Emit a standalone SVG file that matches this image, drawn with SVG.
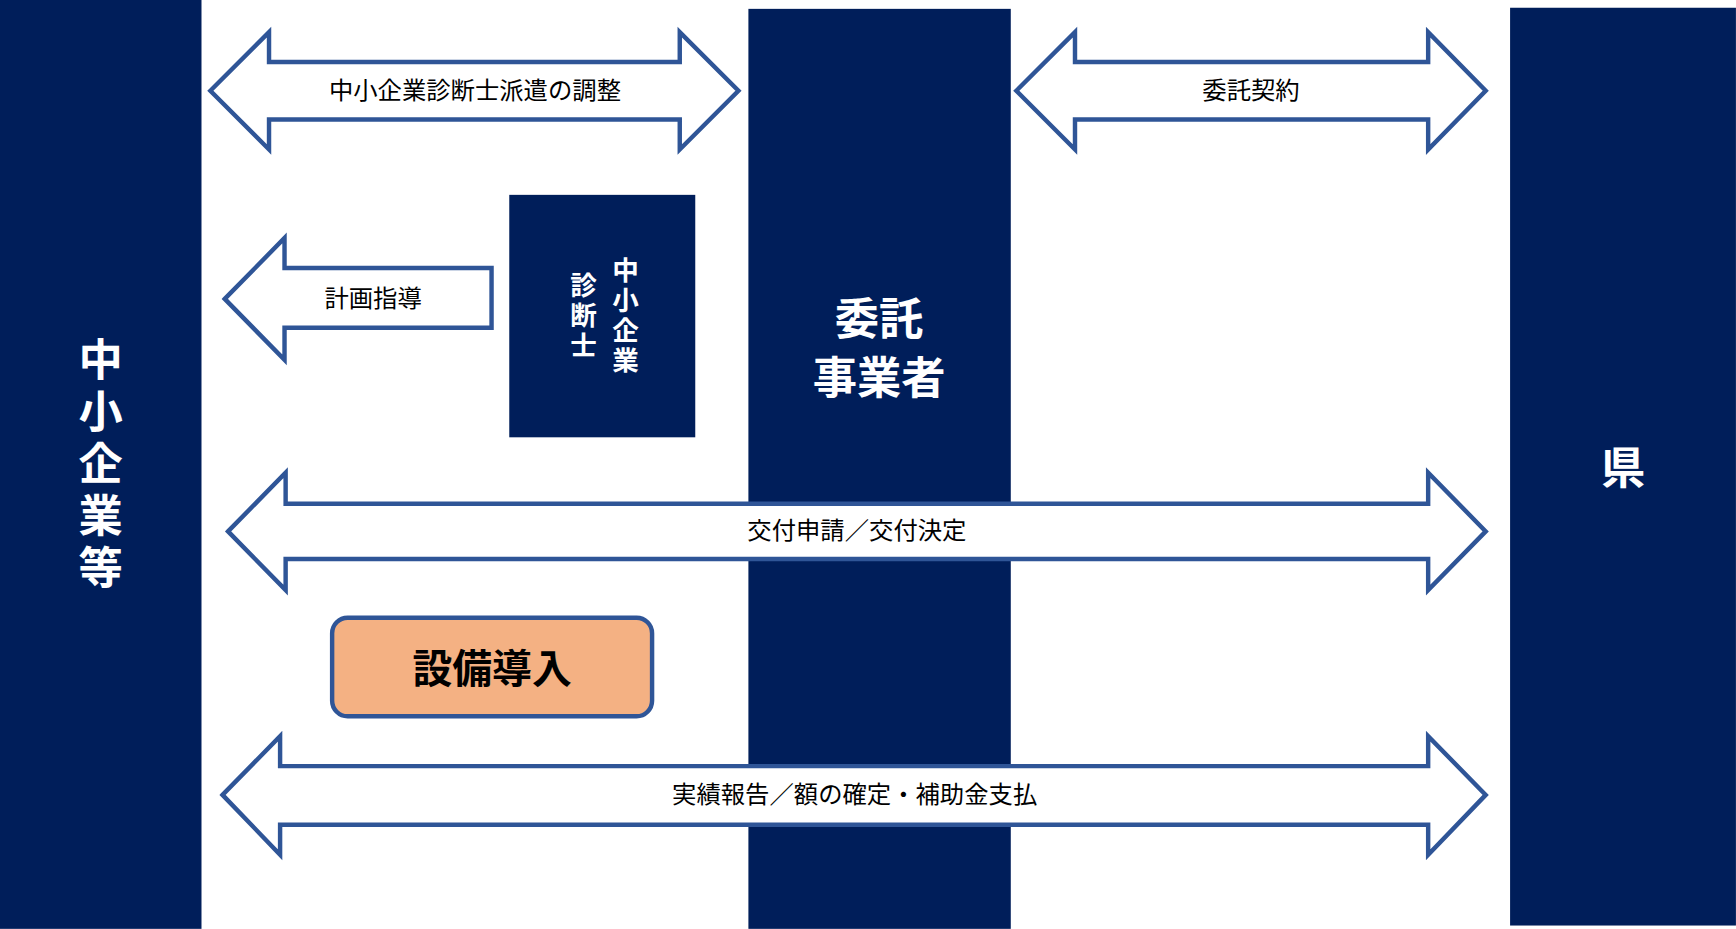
<svg xmlns="http://www.w3.org/2000/svg" width="1736" height="929" viewBox="0 0 1736 929">
<style>
.bar{fill:#001E5A}
.arr{fill:#fff;stroke:#2F5597;stroke-width:4;stroke-linejoin:miter}
.lbl{font-family:"Noto Sans CJK JP",sans-serif;font-size:22px;fill:#000;text-anchor:middle}
.big{font-family:"Noto Sans CJK JP",sans-serif;font-weight:bold;fill:#fff;text-anchor:middle}
.vt{writing-mode:vertical-rl;text-orientation:upright}
</style>
<rect width="1736" height="929" fill="#fff"/>
<g transform="scale(1.1071)">
<g id="sme"><rect class="bar" x="0" y="0" width="182" height="839"/>
<text class="big vt" font-size="40" x="91" y="422" letter-spacing="7">中小企業等</text></g>
<g id="contractor"><rect class="bar" x="676" y="8" width="237" height="831"/>
<text class="big" font-size="40" x="794" y="303">委託</text><text class="big" font-size="40" x="794" y="356">事業者</text></g>
<g id="pref"><rect class="bar" x="1364" y="7" width="204" height="829"/>
<text class="big" font-size="40" x="1466" y="437">県</text></g>
<g id="consultant"><rect class="bar" x="460" y="176" width="168" height="219"/>
<text class="big vt" font-size="24" x="565" y="286" letter-spacing="3">中小企業</text>
<text class="big vt" font-size="24" x="527" y="286" letter-spacing="3">診断士</text></g>
<g id="equip"><rect x="300" y="558" width="289" height="89" rx="14" fill="#F4B183" stroke="#2F5597" stroke-width="4"/>
<text x="444.5" y="617" font-family="Noto Sans CJK JP,sans-serif" font-size="36" font-weight="bold" text-anchor="middle" fill="#000">設備導入</text></g>
<g id="connectors">
<path class="arr" d="M190,82 L243,29 L243,56 L614,56 L614,29 L667,82 L614,135 L614,108 L243,108 L243,135 Z"/>
<text class="lbl" x="429" y="89">中小企業診断士派遣の調整</text>
<path class="arr" d="M918,82 L971,29 L971,56 L1290,56 L1290,29 L1342,82 L1290,135 L1290,108 L971,108 L971,135 Z"/>
<text class="lbl" x="1130" y="89">委託契約</text>
<path class="arr" d="M203,270 L257,215 L257,242 L444,242 L444,296 L257,296 L257,325 Z"/>
<text class="lbl" x="337" y="277">計画指導</text>
<path class="arr" d="M206,480 L258,427 L258,455 L1290,455 L1290,427 L1342,480 L1290,533 L1290,505 L258,505 L258,533 Z"/>
<text class="lbl" x="774" y="487">交付申請／交付決定</text>
<path class="arr" d="M201,718 L253,665 L253,692 L1290,692 L1290,665 L1342,718 L1290,772 L1290,745 L253,745 L253,772 Z"/>
<text class="lbl" x="772" y="725">実績報告／額の確定・補助金支払</text>
</g>
</g>
</svg>
